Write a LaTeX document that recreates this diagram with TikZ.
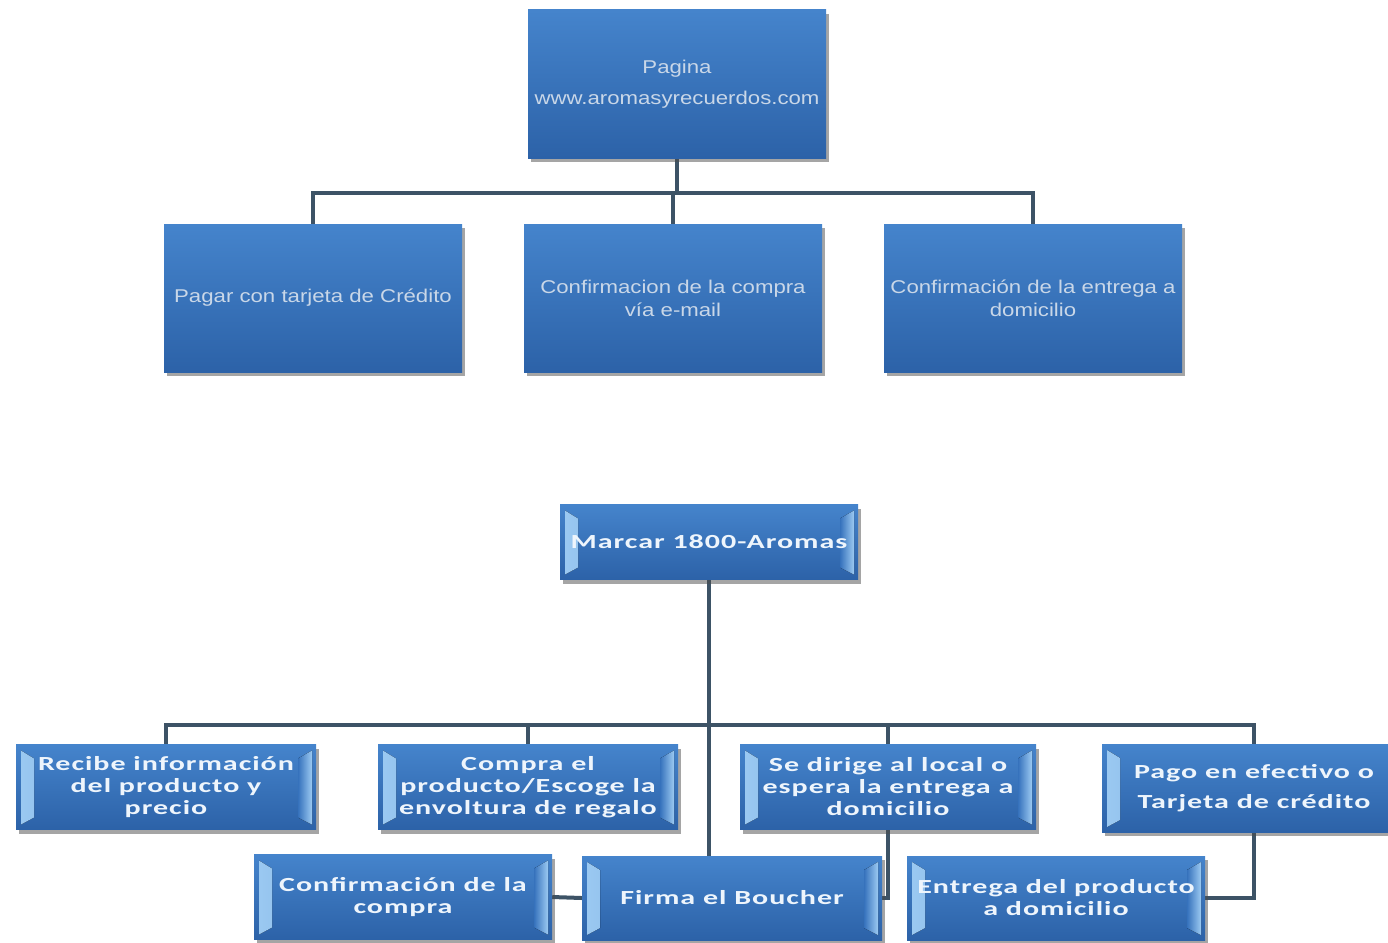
\documentclass[tikz,border=0pt]{standalone}
\usepackage{fontspec}
\setmainfont{Liberation Sans}
\newfontfamily\topfont[FakeStretch=1.2]{Liberation Sans}
\newfontfamily\botfont[FakeStretch=1.5,LetterSpace=5]{Carlito}
\usetikzlibrary{shadows,calc,backgrounds}
\definecolor{boxtop}{HTML}{4584CC}
\definecolor{boxmid}{HTML}{3672BC}
\definecolor{boxbot}{HTML}{2C62A8}
\definecolor{bevlight}{HTML}{9CCAF2}
\definecolor{conncol}{HTML}{3D5366}
\definecolor{toptext}{HTML}{C9D7E8}
\definecolor{bottext}{HTML}{EEF5FC}
\tikzset{
  basebox/.style={draw=none, top color=boxtop, middle color=boxmid, bottom color=boxbot,
    drop shadow={shadow xshift=3pt, shadow yshift=-4pt, opacity=.5, fill=black!70},
    align=center, inner sep=0pt},
  topbox/.style={basebox, minimum width=298pt, minimum height=148pt, text=toptext,
    font=\topfont\fontsize{18.5}{23}\selectfont},
  bevelbox/.style={basebox, minimum height=85pt, text=bottext,
    font=\botfont\bfseries\fontsize{20}{22}\selectfont,
    path picture={
      \fill[left color=bevlight, right color=boxmid]
        ($(path picture bounding box.north west)+(5pt,-6pt)$) --
        ($(path picture bounding box.north west)+(18pt,-14pt)$) --
        ($(path picture bounding box.south west)+(18pt,12pt)$) --
        ($(path picture bounding box.south west)+(5pt,5pt)$) -- cycle;
      \fill[left color=boxmid, right color=bevlight]
        ($(path picture bounding box.north east)+(-18pt,-14pt)$) --
        ($(path picture bounding box.north east)+(-4pt,-6pt)$) --
        ($(path picture bounding box.south east)+(-4pt,5pt)$) --
        ($(path picture bounding box.south east)+(-18pt,12pt)$) -- cycle;
    }},
  conn/.style={draw=conncol, line width=4pt}
}
\begin{document}
\begin{tikzpicture}[x=1pt,y=-1pt]
\useasboundingbox (0,0) rectangle (1388,942);

% top chart
\node[topbox] (root) at (677,84) {Pagina\\[8pt]www.aromasyrecuerdos.com};
\node[topbox] (c1) at (313,298) {Pagar con tarjeta de Crédito};
\node[topbox] (c2) at (673,298) {Confirmacion de la compra\\vía e-mail};
\node[topbox] (c3) at (1033,298) {Confirmación de la entrega a\\domicilio};

% bottom chart
\node[bevelbox, minimum width=298pt, minimum height=75pt] (m) at (709,542) {Marcar 1800-Aromas};
\node[bevelbox, minimum width=300pt] (a) at (166,787) {Recibe información\\del producto y\\precio};
\node[bevelbox, minimum width=300pt] (b) at (528,787) {Compra el\\producto/Escoge la\\envoltura de regalo};
\node[bevelbox, minimum width=296pt] (c) at (888,787) {Se dirige al local o\\espera la entrega a\\domicilio};
\node[bevelbox, minimum width=304pt, minimum height=88pt] (d) at (1254,788) {Pago en efectivo o\\[8pt]Tarjeta de crédito};
\node[bevelbox, minimum width=298pt] (e) at (403,897) {Confirmación de la\\compra};
\node[bevelbox, minimum width=300pt, minimum height=84pt] (f) at (732,898) {Firma el Boucher};
\node[bevelbox, minimum width=298pt, minimum height=84pt] (g) at (1056,898) {Entrega del producto\\a domicilio};

\begin{scope}[on background layer]
\fill[white] (0,0) rectangle (1388,942);
\coordinate (tj) at (677,193);
\draw[conn] (root.south) -- (tj);
\draw[conn] (c1.north) |- (tj) -| (c3.north);
\draw[conn] (c2.north) -- (c2.north |- tj);
\coordinate (bj) at (709,725);
\draw[conn] (m.south) -- (m.south |- f.north);
\draw[conn] (a.north) |- (bj) -| (d.north);
\draw[conn] (b.north) -- (b.north |- bj);
\draw[conn] (c.north) -- (c.north |- bj);
\draw[conn] (c.south) |- (f.east);
\draw[conn] (d.south) |- (g.east);
\draw[conn] (e.east) -- (f.west);
\end{scope}
\end{tikzpicture}
\end{document}
